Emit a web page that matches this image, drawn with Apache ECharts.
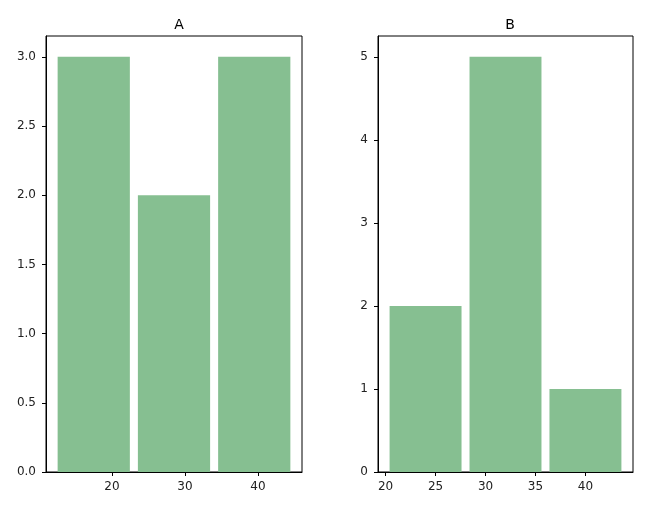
<!DOCTYPE html>
<html>
<head>
<meta charset="utf-8">
<title>hist A B</title>
<script type="text/javascript" src="https://cdn.jsdelivr.net/npm/echarts@6/dist/echarts.min.js"></script>
<style>
html, body { margin: 0; padding: 0; background: #fff; }
#chart { width: 654px; height: 512px; }
</style>
</head>
<body>
<div id="chart"></div>
<script type="text/javascript">
// bin edges and counts for each panel
var binsA = [12, 23, 34, 45];
var countsA = [3, 2, 3];
var binsB = [20, 28, 36, 44];
var countsB = [2, 5, 1];

// tick labels
var xTicksA = [20, 30, 40];
var yTicksA = [0, 0.5, 1.0, 1.5, 2.0, 2.5, 3.0];
var xTicksB = [20, 25, 30, 35, 40];
var yTicksB = [0, 1, 2, 3, 4, 5];

var rwidth = 0.9;
var barColor = '#86bf91';
var font = 'DejaVu Sans';

function toRows(bins, counts) {
    var rows = [];
    for (var i = 0; i < counts.length; i++) {
        rows.push([bins[i], bins[i + 1], counts[i]]);
    }
    return rows;
}

// axis limits like matplotlib: 5% margin around the drawn bars
function xLimits(bins) {
    var w = bins[1] - bins[0];
    var pad = w * (1 - rwidth) / 2;
    var lo = bins[0] + pad, hi = bins[bins.length - 1] - pad;
    var m = (hi - lo) * 0.05;
    return [lo - m, hi + m];
}

function renderBar(params, api) {
    var lo = api.value(0), hi = api.value(1), c = api.value(2);
    var pad = (hi - lo) * (1 - rwidth) / 2;
    var p1 = api.coord([lo + pad, c]);
    var p2 = api.coord([hi - pad, 0]);
    return {
        type: 'rect',
        shape: { x: p1[0], y: p1[1], width: p2[0] - p1[0], height: p2[1] - p1[1] },
        style: { fill: barColor }
    };
}

var limA = xLimits(binsA);
var limB = xLimits(binsB);
var maxA = Math.max.apply(null, countsA) * 1.05;
var maxB = Math.max.apply(null, countsB) * 1.05;

function xAxis(idx, lim, ticks) {
    return {
        type: 'value', gridIndex: idx, min: lim[0], max: lim[1],
        axisLine: { show: true, lineStyle: { color: '#000', width: 1 } },
        axisTick: { show: true, length: 4, customValues: ticks, lineStyle: { color: '#000' } },
        axisLabel: { customValues: ticks, margin: 9, color: '#222', fontSize: 12, fontFamily: font },
        splitLine: { show: false }
    };
}
function yAxis(idx, max, ticks, digits) {
    return {
        type: 'value', gridIndex: idx, min: 0, max: max,
        axisLine: { show: true, lineStyle: { color: '#000', width: 1 } },
        axisTick: { show: true, length: 4, customValues: ticks, lineStyle: { color: '#000' } },
        axisLabel: {
            customValues: ticks, margin: 10, color: '#222', fontSize: 12, fontFamily: font,
            formatter: function (v) { return v.toFixed(digits); }
        },
        splitLine: { show: false }
    };
}

var option = {
    animation: false,
    backgroundColor: '#fff',
    title: [
        { text: 'A', left: 174, top: 13, textAlign: 'center',
          textStyle: { fontSize: 14, fontWeight: 'normal', color: '#000', fontFamily: font } },
        { text: 'B', left: 505, top: 13, textAlign: 'center',
          textStyle: { fontSize: 14, fontWeight: 'normal', color: '#000', fontFamily: font } }
    ],
    grid: [
        { left: 46, top: 36, width: 256, height: 436, show: true, borderColor: '#000', borderWidth: 1 },
        { left: 378, top: 36, width: 255, height: 436, show: true, borderColor: '#000', borderWidth: 1 }
    ],
    xAxis: [xAxis(0, limA, xTicksA), xAxis(1, limB, xTicksB)],
    yAxis: [yAxis(0, maxA, yTicksA, 1), yAxis(1, maxB, yTicksB, 0)],
    series: [
        { type: 'custom', xAxisIndex: 0, yAxisIndex: 0, renderItem: renderBar,
          encode: { x: [0, 1], y: 2 }, data: toRows(binsA, countsA) },
        { type: 'custom', xAxisIndex: 1, yAxisIndex: 1, renderItem: renderBar,
          encode: { x: [0, 1], y: 2 }, data: toRows(binsB, countsB) }
    ]
};

var chart = echarts.init(document.getElementById('chart'));
chart.setOption(option);
</script>
</body>
</html>
